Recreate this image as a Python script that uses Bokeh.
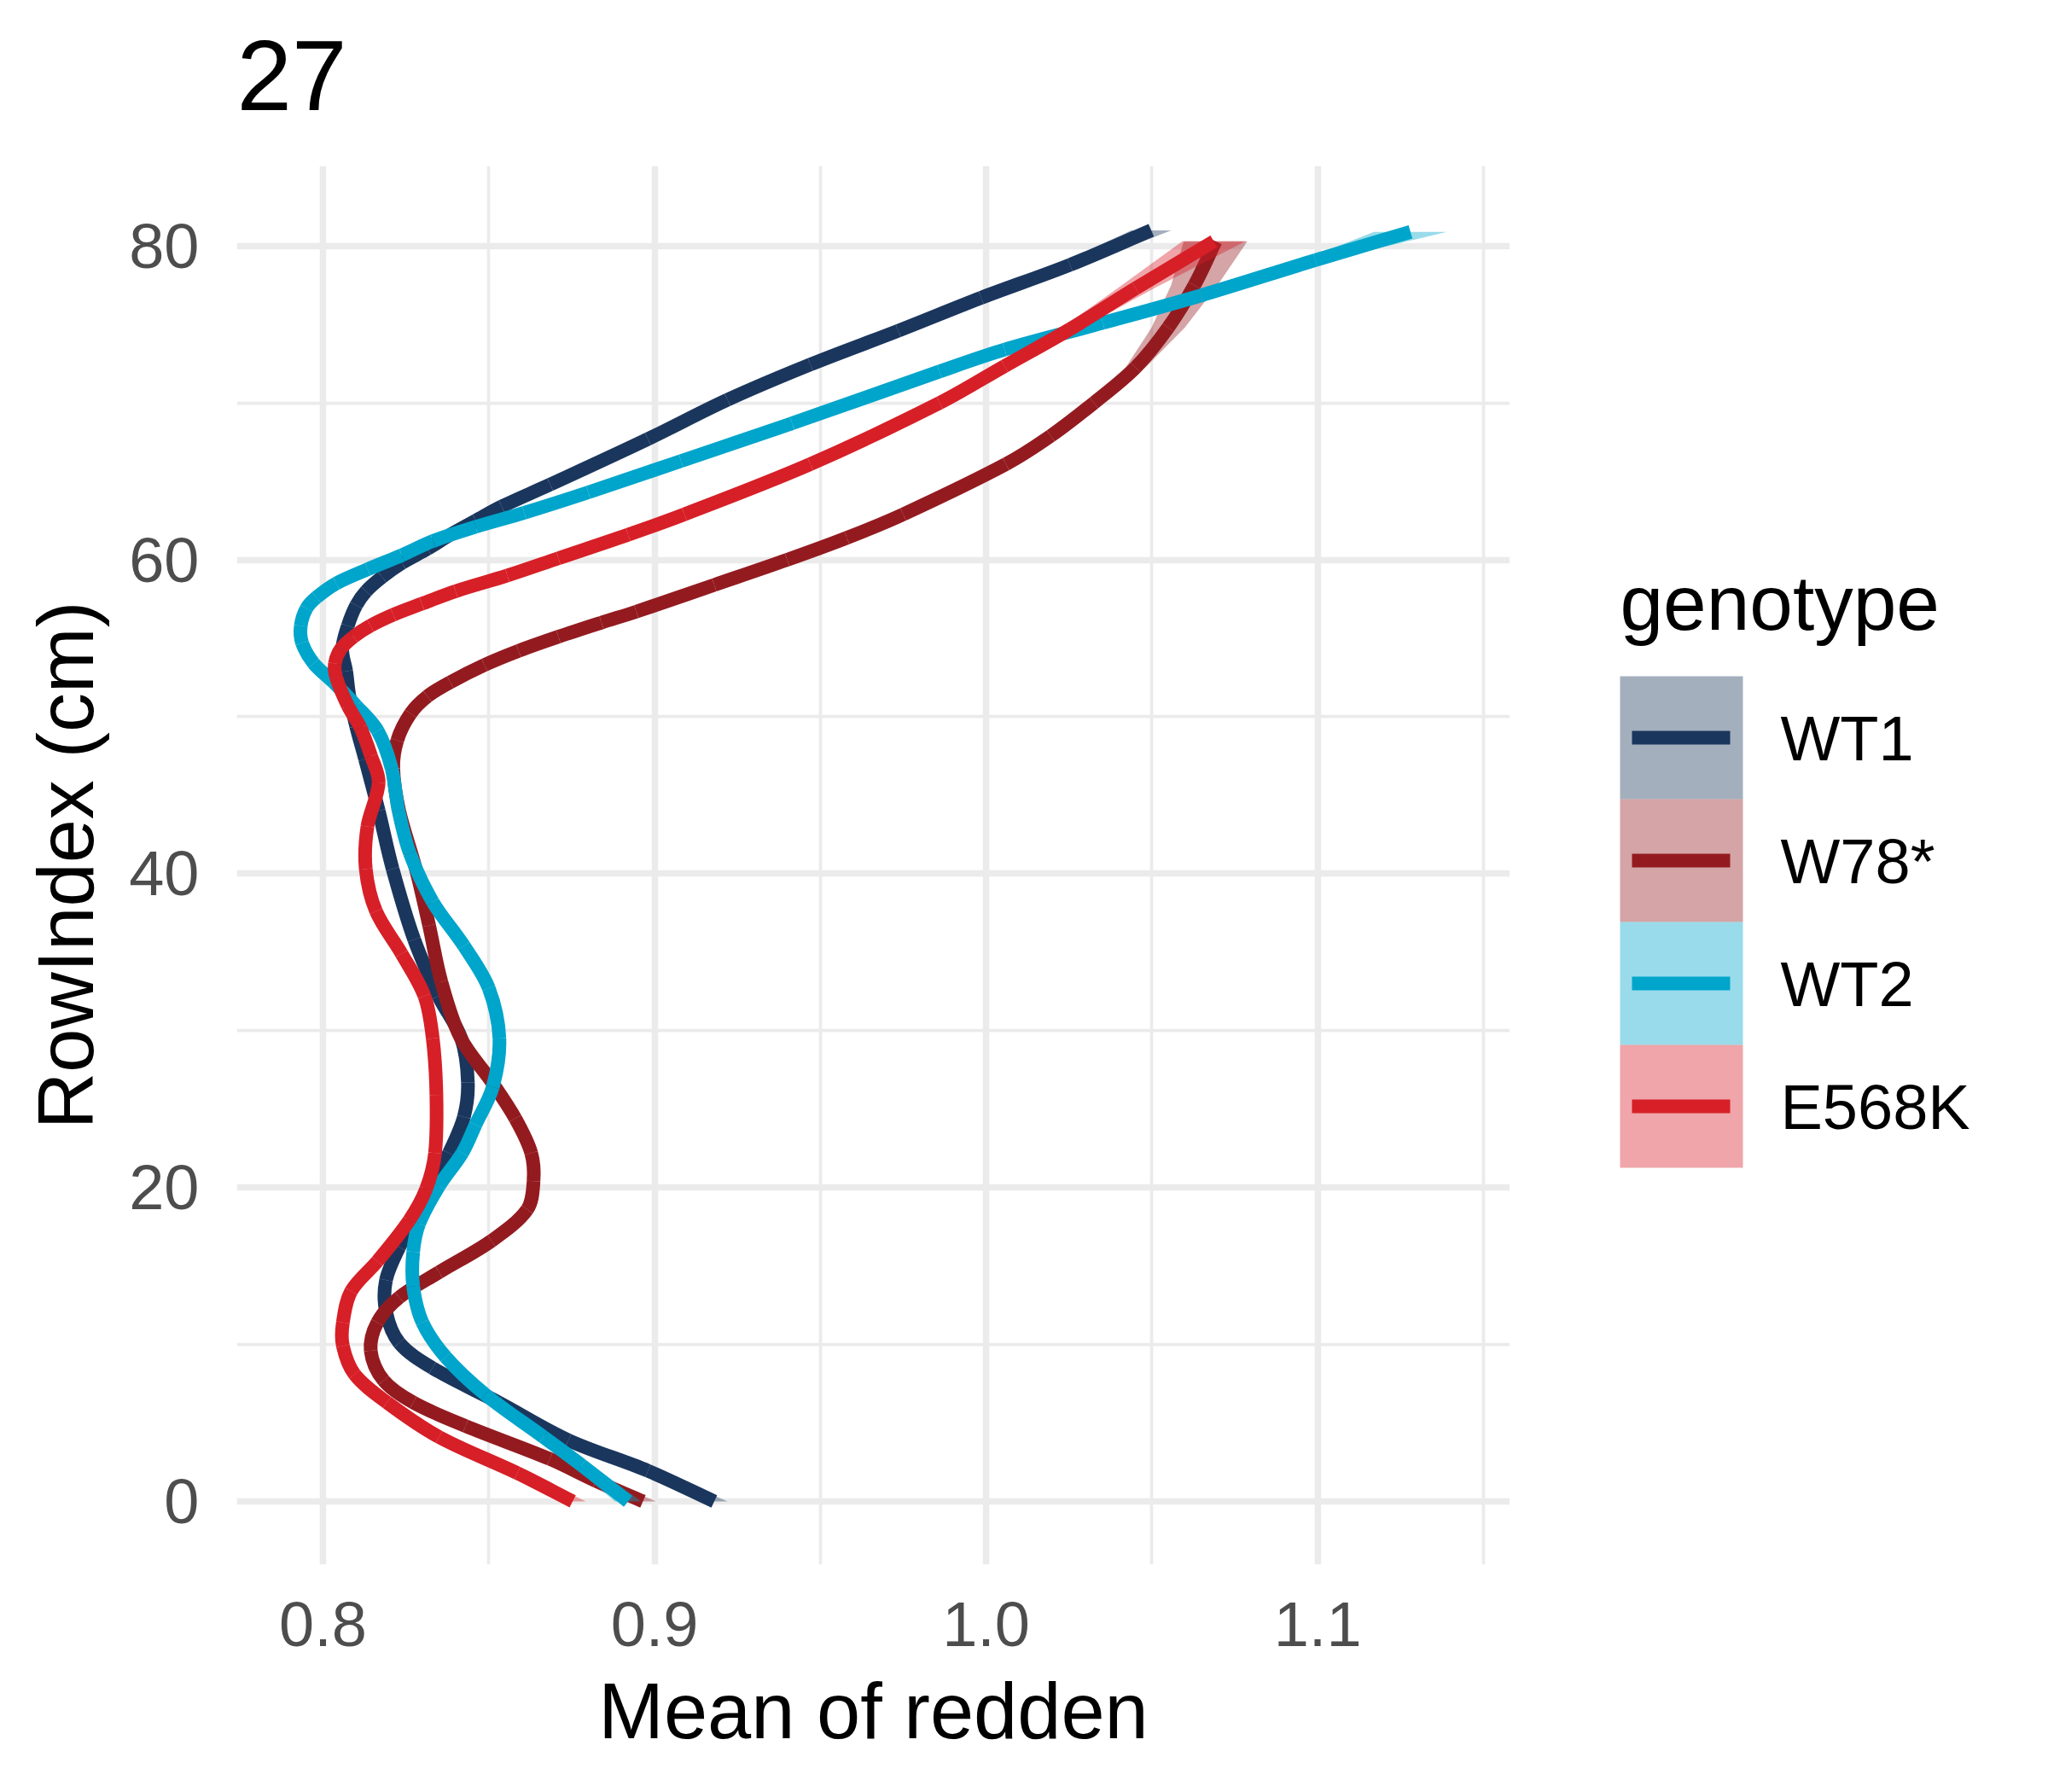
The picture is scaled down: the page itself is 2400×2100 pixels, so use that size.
from bokeh.plotting import figure
from bokeh.models import Range1d, FixedTicker, Title
from bokeh.layouts import row
from bokeh.core.properties import value
from bokeh.embed import file_html
from bokeh.resources import INLINE

# ---------------- data ----------------
genotypes = ["WT1", "W78*", "WT2", "E568K"]
colors = ["#1B365D", "#931B20", "#00A5CB", "#D71F27"]

wt1_row = [0, 1.95, 3.9, 6.3, 8.5, 10.1, 12.1, 14.1, 16.2, 18.6, 22.2, 24.5, 26.7, 29.5,
           32.2, 35.8, 40.3, 44.0, 47.3, 49.4, 51.4, 52.9, 54.3, 55.8, 57.1, 58.0, 58.9,
           59.8, 60.7, 61.6, 62.5, 63.4, 64.8, 67.7, 70.2, 72.45, 74.6, 76.7, 78.8, 81.0]
wt1_mean = [0.918, 0.898, 0.874, 0.853, 0.833, 0.823, 0.819, 0.819, 0.823, 0.829, 0.838,
            0.8425, 0.8437, 0.8417, 0.8348, 0.8275, 0.821, 0.8168, 0.8127, 0.810, 0.8079,
            0.807, 0.8058, 0.8075, 0.810, 0.813, 0.8178, 0.8238, 0.8315, 0.8384, 0.8461,
            0.8539, 0.8685, 0.898, 0.922, 0.947, 0.9735, 0.9985, 1.0253, 1.0498]
wt1_se = [0.004, 0.003, 0.0025, 0.002, 0.002,
          0.0015, 0.0015, 0.0015, 0.0015, 0.0015, 0.0015, 0.0015, 0.0015, 0.0015, 0.0015,
          0.0015, 0.0015, 0.0015, 0.0015, 0.0015, 0.0015, 0.0015, 0.0015, 0.0015, 0.0015,
          0.0015, 0.0015, 0.0015, 0.0015, 0.0015, 0.0015, 0.0015, 0.0015, 0.0015, 0.0015,
          0.002, 0.0025, 0.003, 0.004, 0.006]

w78_row = [0, 1.3, 2.7, 4.8, 6.3, 7.7, 9.6, 11.4, 13.0, 14.6, 16.6, 18.6, 20.4, 22.2, 24.4,
           26.7, 29.5, 33.1, 36.7, 40.3, 44.0, 46.7, 48.5, 50.2, 51.3, 52.2, 53.3, 54.2,
           55.1, 56.0, 56.7, 58.4, 60.0, 61.4, 62.9, 66.1, 67.9, 70.0, 72.26, 74.8, 77.5,
           80.3]
w78_mean = [0.8965, 0.8823, 0.8684, 0.843, 0.8272, 0.8183, 0.8144, 0.8164, 0.823, 0.835,
            0.8508, 0.8616, 0.8635, 0.8628, 0.858, 0.851, 0.8416, 0.8357, 0.832, 0.828,
            0.823, 0.8212, 0.8224, 0.8264, 0.8315, 0.8384, 0.8487, 0.859, 0.871, 0.884,
            0.8945, 0.918, 0.940, 0.958, 0.975, 1.006, 1.0195, 1.0325, 1.0451, 1.0549,
            1.0628, 1.0692]
w78_se = [0.004, 0.003, 0.0025, 0.002, 0.002,
          0.0015, 0.0015, 0.0015, 0.0015, 0.0015, 0.0015, 0.0015, 0.0015, 0.0015, 0.0015,
          0.0015, 0.0015, 0.0015, 0.0015, 0.0015, 0.0015, 0.0015, 0.0015, 0.0015, 0.0015,
          0.0015, 0.0015, 0.0015, 0.0015, 0.0015, 0.0015, 0.0015, 0.0015, 0.0015, 0.0015,
          0.0015, 0.0015, 0.002, 0.003, 0.005, 0.007, 0.0096]

wt2_row = [0, 2.3, 4.1, 6.8, 9.2, 11.4, 13.7, 15.9, 17.7, 20.1, 22.2, 24.0, 26.4, 29.5,
           32.7, 35.4, 38.2, 41.3, 44.0, 46.7, 49.1, 50.7, 52.2, 53.4, 54.7, 55.8, 56.9,
           57.6, 58.5, 59.4, 60.3, 61.2, 62.1, 63.0, 64.3, 66.3, 68.7, 72.0, 73.4, 75.1,
           76.85, 79.1, 80.9]
wt2_mean = [0.892, 0.878, 0.8665, 0.849, 0.837, 0.830, 0.8272, 0.8272, 0.829, 0.835, 0.842,
            0.846, 0.8512, 0.8532, 0.850, 0.8425, 0.8331, 0.8262, 0.8228, 0.8207, 0.8165,
            0.810, 0.8032, 0.7972, 0.7937, 0.7933, 0.795, 0.798, 0.804, 0.8135, 0.8238,
            0.8332, 0.846, 0.8607, 0.880, 0.908, 0.9415, 0.9859, 1.0056, 1.0352, 1.0648,
            1.0993, 1.128]
wt2_se = [0.004, 0.003, 0.0025, 0.002, 0.002,
          0.0015, 0.0015, 0.0015, 0.0015, 0.0015, 0.0015, 0.0015, 0.0015, 0.0015, 0.0015,
          0.0015, 0.0015, 0.0015, 0.0015, 0.0015, 0.0015, 0.0015, 0.0015, 0.0015, 0.0015,
          0.0015, 0.0015, 0.0015, 0.0015, 0.0015, 0.0015, 0.0015, 0.0015, 0.0015, 0.0015,
          0.0015, 0.0015, 0.0015, 0.002, 0.0025, 0.003, 0.004, 0.011]

e568k_row = [0, 1.8, 4.1, 6.3, 8.1, 9.9, 11.4, 13.4, 15.3, 17.9, 19.9, 22.2, 25.9, 29.5,
             32.2, 34.9, 37.6, 40.3, 43.0, 45.8, 47.5, 49.3, 50.7, 52.5, 53.4, 54.3, 55.1,
             55.8, 56.5, 57.2, 58.0, 59.0, 60.1, 61.6, 62.9, 66.1, 70.0, 72.35, 74.7, 77.3,
             80.3]
e568k_mean = [0.8753, 0.8586, 0.835, 0.8193, 0.8095, 0.806, 0.806, 0.8085, 0.8164, 0.826,
              0.8311, 0.8338, 0.8342, 0.8331, 0.8306, 0.8237, 0.816, 0.8129, 0.8134,
              0.8168, 0.8145, 0.8113, 0.8075, 0.804, 0.8036, 0.8053, 0.8092, 0.8143,
              0.8212, 0.8298, 0.840, 0.8556, 0.871, 0.892, 0.909, 0.947, 0.986, 1.0056,
              1.0253, 1.0451, 1.0687]
e568k_se = [0.004, 0.003, 0.0025, 0.002, 0.002,
            0.0015, 0.0015, 0.0015, 0.0015, 0.0015, 0.0015, 0.0015, 0.0015, 0.0015, 0.0015,
            0.0015, 0.0015, 0.0015, 0.0015, 0.0015, 0.0015, 0.0015, 0.0015, 0.0015, 0.0015,
            0.0015, 0.0015, 0.0015, 0.0015, 0.0015, 0.0015, 0.0015, 0.0015, 0.0015, 0.0015,
            0.0015, 0.002, 0.0025, 0.003, 0.0055, 0.0095]

series_rows = [wt1_row, w78_row, wt2_row, e568k_row]
series_means = [wt1_mean, w78_mean, wt2_mean, e568k_mean]
series_se = [wt1_se, w78_se, wt2_se, e568k_se]
for _r, _m, _s in zip(series_rows, series_means, series_se):
    assert len(_r) == len(_m) == len(_s), (len(_r), len(_m), len(_s))

x_ticks = [0.8, 0.9, 1.0, 1.1]
x_tick_labels = ["0.8", "0.9", "1.0", "1.1"]
x_minor = [0.85, 0.95, 1.05, 1.15]
y_ticks = [0, 20, 40, 60, 80]
y_tick_labels = ["0", "20", "40", "60", "80"]
y_minor = [10, 30, 50, 70]
title_text = "27"

FONT = "Liberation Sans"
X_RANGE = (0.774, 1.158)
Y_RANGE = (-4.03, 85.1)
FRAME_W, FRAME_H = 1492, 1639
LEFT, TOP, BOTTOM = 277, 194, 251
MAIN_W = LEFT + FRAME_W
TOTAL_W = 2384


def smooth_segments(xs, ys):
    """Bezier control points for a smooth curve through every read point
    (tangents from neighbouring points, measured in screen proportions)."""
    kx = FRAME_W / (X_RANGE[1] - X_RANGE[0])
    ky = FRAME_H / (Y_RANGE[1] - Y_RANGE[0])
    px = [x * kx for x in xs]
    py = [y * ky for y in ys]
    n = len(px)
    d = [((px[i + 1] - px[i]) ** 2 + (py[i + 1] - py[i]) ** 2) ** 0.5 for i in range(n - 1)]
    tx, ty = [], []
    for i in range(n):
        if i == 0:
            tx.append((px[1] - px[0]) / d[0]); ty.append((py[1] - py[0]) / d[0])
        elif i == n - 1:
            tx.append((px[i] - px[i - 1]) / d[i - 1]); ty.append((py[i] - py[i - 1]) / d[i - 1])
        else:
            s = d[i - 1] + d[i]
            tx.append((px[i + 1] - px[i - 1]) / s); ty.append((py[i + 1] - py[i - 1]) / s)
    seg = dict(x0=[], y0=[], x1=[], y1=[], cx0=[], cy0=[], cx1=[], cy1=[])
    for i in range(n - 1):
        h = d[i] / 3.0
        seg["x0"].append(xs[i]); seg["y0"].append(ys[i])
        seg["x1"].append(xs[i + 1]); seg["y1"].append(ys[i + 1])
        seg["cx0"].append((px[i] + tx[i] * h) / kx); seg["cy0"].append((py[i] + ty[i] * h) / ky)
        seg["cx1"].append((px[i + 1] - tx[i + 1] * h) / kx); seg["cy1"].append((py[i + 1] - ty[i + 1] * h) / ky)
    return seg


# ---------------- main figure ----------------
p = figure(frame_width=FRAME_W, frame_height=FRAME_H,
           min_border_left=LEFT, min_border_right=0,
           min_border_top=TOP, min_border_bottom=BOTTOM,
           x_range=Range1d(*X_RANGE), y_range=Range1d(*Y_RANGE),
           output_backend="svg", toolbar_location=None)
p.outline_line_color = None
p.background_fill_color = "white"
p.border_fill_color = "white"

# spacer (closest to the frame) then the visible title above it
p.add_layout(Title(text=" ", text_font_size="1px", standoff=63), "above")
p.add_layout(Title(text=title_text, text_font=FONT, text_font_size="116px",
                   text_font_style="normal", text_color="black", align="left",
                   standoff=0), "above")

p.xaxis.ticker = FixedTicker(ticks=x_ticks, minor_ticks=x_minor)
p.yaxis.ticker = FixedTicker(ticks=y_ticks, minor_ticks=y_minor)
p.xaxis.major_label_overrides = dict(zip(x_ticks, x_tick_labels))
p.yaxis.major_label_overrides = dict(zip(y_ticks, y_tick_labels))

for ax in (p.xaxis[0], p.yaxis[0]):
    ax.axis_line_color = None
    ax.major_tick_line_color = None
    ax.minor_tick_line_color = None
    ax.major_tick_in = 0
    ax.major_tick_out = 0
    ax.minor_tick_in = 0
    ax.minor_tick_out = 0
    ax.major_label_text_font = FONT
    ax.major_label_text_font_size = "74px"
    ax.major_label_text_color = "#4D4D4D"
    ax.axis_label_text_font = FONT
    ax.axis_label_text_font_size = "92px"
    ax.axis_label_text_font_style = "normal"
    ax.axis_label_text_color = "black"

p.xaxis.axis_label = "Mean of redden"
p.yaxis.axis_label = "RowIndex (cm)"
p.xaxis.major_label_standoff = 44
p.yaxis.major_label_standoff = 44
p.xaxis.axis_label_standoff = 22
p.yaxis.axis_label_standoff = 20

for g in (p.xgrid[0], p.ygrid[0]):
    g.grid_line_color = "#EBEBEB"
    g.grid_line_width = 7.5
    g.minor_grid_line_color = "#EBEBEB"
    g.minor_grid_line_width = 3.75

for name, col, rows, means, ses in zip(genotypes, colors, series_rows, series_means, series_se):
    lo = [m - s for m, s in zip(means, ses)]
    hi = [m + s for m, s in zip(means, ses)]
    p.harea(x1=lo, x2=hi, y=rows, fill_color=col, fill_alpha=0.4)
    seg = smooth_segments(means, rows)
    p.bezier(x0=seg["x0"], y0=seg["y0"], x1=seg["x1"], y1=seg["y1"],
             cx0=seg["cx0"], cy0=seg["cy0"], cx1=seg["cx1"], cy1=seg["cy1"],
             line_color=col, line_width=16, line_cap="butt")

# ---------------- legend panel (page-pixel coordinates) ----------------
lg = figure(frame_width=TOTAL_W - MAIN_W, frame_height=FRAME_H,
            x_range=Range1d(MAIN_W, TOTAL_W), y_range=Range1d(TOP + FRAME_H, TOP),
            min_border_left=0, min_border_right=0,
            min_border_top=TOP, min_border_bottom=BOTTOM,
            output_backend="svg", toolbar_location=None,
            x_axis_location=None, y_axis_location=None)
lg.grid.visible = False
lg.outline_line_color = None
lg.background_fill_color = "white"
lg.border_fill_color = "white"

key_left, key_right, key_top, key_h = 1898, 2042, 792, 144
key_tops = [key_top + i * key_h for i in range(len(genotypes))]
key_bottoms = [t + key_h for t in key_tops]
key_mid = [t + key_h / 2 for t in key_tops]
lg.quad(left=key_left, right=key_right, top=key_tops, bottom=key_bottoms,
        fill_color=colors, fill_alpha=0.4, line_color=None)
lg.segment(x0=key_left + 14, x1=key_right - 15, y0=key_mid, y1=key_mid,
           line_color=colors, line_width=16, line_cap="butt")
lg.text(x=2086, y=[m + 1 for m in key_mid], text=genotypes,
        text_font=value(FONT), text_font_size="74px", text_color="black",
        text_baseline="middle", text_align="left")
lg.text(x=[1898], y=[706], text=["genotype"],
        text_font=value(FONT), text_font_size="91px", text_color="black",
        text_baseline="middle", text_align="left")

layout = row(p, lg)
open("out.html", "w").write(file_html(layout, INLINE))
